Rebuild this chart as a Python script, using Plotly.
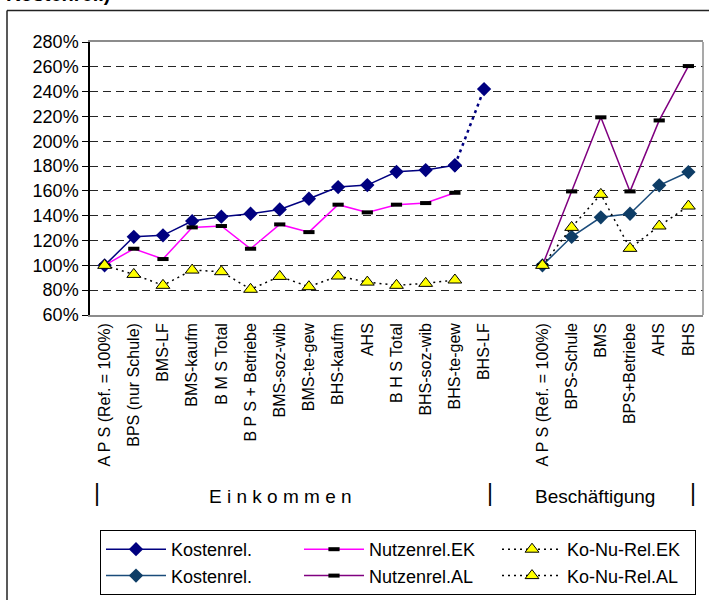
import plotly.graph_objects as go

# ---------------- data ----------------
categories = [
    "A P S (Ref. = 100%)", "BPS (nur Schule)", "BMS-LF", "BMS-kaufm", "B M S Total",
    "B P S + Betriebe", "BMS-soz-wib", "BMS-te-gew", "BHS-kaufm", "AHS",
    "B H S Total", "BHS-soz-wib", "BHS-te-gew", "BHS-LF", "",
    "A P S (Ref. = 100%)", "BPS-Schule", "BMS", "BPS+Betriebe", "AHS", "BHS",
]

# Einkommen (indices 0..13)
kosten_ek = [100, 123.0, 124.2, 135.7, 139.2, 141.6, 145.1, 153.7, 163.1, 164.7,
             175.4, 176.8, 180.6]
kosten_ek_lf = [180.6, 242.1]          # dotted segment BHS-te-gew -> BHS-LF
nutzen_ek = [100, 113.4, 105.1, 130.6, 131.7, 113.4, 133.0, 126.8, 148.9, 142.7,
             148.9, 150.2, 158.5]
konu_ek = [100, 92.7, 83.9, 96.2, 94.9, 80.7, 91.1, 82.8, 91.4, 86.5,
           83.9, 85.5, 88.2]

# Beschäftigung (indices 15..20)
kosten_al = [100, 123.0, 138.7, 141.6, 164.5, 175.2]
nutzen_al = [100, 159.6, 219.3, 159.6, 216.8, 260.6]
konu_al = [100, 130.6, 157.2, 113.7, 131.7, 147.8]

y_ticks = [60, 80, 100, 120, 140, 160, 180, 200, 220, 240, 260, 280]

idx = list(range(len(categories)))
ek_x = idx[0:13]
ek_lf_x = idx[12:14]
al_x = idx[15:21]

# ---------------- geometry helpers (pixel -> paper) ----------------
W, H = 709, 600
L, R, T, B = 90, 6, 42, 285
PW, PH = W - L - R, H - T - B


def xp(px):
    return (px - L) / PW


def yp(py):
    return (H - B - py) / PH


FONT = "Arial, Liberation Sans, sans-serif"

fig = go.Figure()

fig.add_trace(go.Scatter(
    x=ek_x, y=kosten_ek, name="Kostenrel.", mode="lines+markers",
    line=dict(color="#000080", width=1.5),
    marker=dict(symbol="diamond", size=11, color="#000080"),
))
fig.add_trace(go.Scatter(
    x=ek_x, y=nutzen_ek, name="Nutzenrel.EK", mode="lines+markers",
    line=dict(color="#FF00FF", width=1.5),
    marker=dict(symbol="line-ew", size=8, color="black",
                line=dict(color="black", width=4)),
))
fig.add_trace(go.Scatter(
    x=ek_x, y=konu_ek, name="Ko-Nu-Rel.EK", mode="lines+markers",
    line=dict(color="black", width=1.5, dash="2px,4px"),
    marker=dict(symbol="triangle-up", size=12, color="#FFFF00",
                line=dict(color="black", width=1)),
))
fig.add_trace(go.Scatter(
    x=al_x, y=kosten_al, name="Kostenrel.", mode="lines+markers",
    line=dict(color="#1A4B7A", width=1.5),
    marker=dict(symbol="diamond", size=11, color="#0E3D66"),
))
fig.add_trace(go.Scatter(
    x=al_x, y=nutzen_al, name="Nutzenrel.AL", mode="lines+markers",
    line=dict(color="#800080", width=1.5),
    marker=dict(symbol="line-ew", size=8, color="black",
                line=dict(color="black", width=4)),
))
fig.add_trace(go.Scatter(
    x=al_x, y=konu_al, name="Ko-Nu-Rel.AL", mode="lines+markers",
    line=dict(color="black", width=1.5, dash="2px,4px"),
    marker=dict(symbol="triangle-up", size=12, color="#FFFF00",
                line=dict(color="black", width=1)),
))
fig.add_trace(go.Scatter(
    x=ek_lf_x, y=kosten_ek_lf, showlegend=False, mode="lines+markers",
    line=dict(color="#000080", width=2.5, dash="3px,4px"),
    marker=dict(symbol="diamond", size=11, color="#000080"),
))

n = len(categories)
fig.update_layout(
    width=W, height=H,
    margin=dict(l=L, r=R, t=T, b=B, autoexpand=False),
    paper_bgcolor="white", plot_bgcolor="white",
    font=dict(family=FONT, color="black"),
    showlegend=True,
    xaxis=dict(
        range=[-0.5, n - 0.5], tickmode="array", tickvals=idx, ticktext=categories,
        tickangle=-90, tickfont=dict(size=16, family=FONT, color="black"),
        showgrid=False, zeroline=False, showline=True, linecolor="#8c8c8c",
        linewidth=1.5, mirror=True, ticks="",
    ),
    xaxis2=dict(
        overlaying="x", anchor="free", position=(100 - 60) / (280 - 60), side="bottom",
        range=[-0.5, n - 0.5], tickmode="array",
        tickvals=[k - 0.5 for k in range(n + 1)],
        ticks="outside", ticklen=6, tickwidth=1, tickcolor="black",
        showticklabels=False, showgrid=False, zeroline=False,
        showline=True, linecolor="black", linewidth=1.5,
    ),
    yaxis=dict(
        range=[60, 280], tickmode="array", tickvals=y_ticks,
        ticktext=[f"{v}%" for v in y_ticks],
        tickfont=dict(size=18, family=FONT, color="black"),
        ticks="outside", ticklen=6, tickcolor="black",
        showline=True, linecolor="black", linewidth=1.5,
        showgrid=True, gridcolor="#262626", gridwidth=1, griddash="8px,5px",
        zeroline=False,
    ),
    legend=dict(
        orientation="h", x=xp(100), y=yp(530), xanchor="left", yanchor="top",
        bordercolor="black", borderwidth=1, bgcolor="white",
        font=dict(size=18, family=FONT, color="black"),
        entrywidth=123, entrywidthmode="pixels", itemwidth=60,
        tracegroupgap=0, traceorder="normal",
    ),
)

# right border of plot area (gray)
fig.add_shape(type="line", xref="paper", yref="paper", x0=1, x1=1, y0=0, y1=1,
              line=dict(color="#8c8c8c", width=1.5))
# outer chart frame (partially visible)
fig.add_shape(type="line", xref="paper", yref="paper", x0=xp(7), x1=xp(7),
              y0=yp(640), y1=yp(10.5), line=dict(color="#222", width=1.5))
fig.add_shape(type="line", xref="paper", yref="paper", x0=xp(7), x1=xp(740),
              y0=yp(10.5), y1=yp(10.5), line=dict(color="#222", width=1.5))

# group labels under the axis
for px in (97, 490, 693):
    fig.add_annotation(text="|", xref="paper", yref="paper", x=xp(px), y=yp(493),
                       xanchor="center", yanchor="middle", showarrow=False,
                       font=dict(size=23, family=FONT, color="black"))
fig.add_annotation(text="E i n k o m m e n", xref="paper", yref="paper",
                   x=xp(280), y=yp(497), xanchor="center", yanchor="middle",
                   showarrow=False, font=dict(size=19, family=FONT, color="black"))
fig.add_annotation(text="Beschäftigung", xref="paper", yref="paper",
                   x=xp(595), y=yp(497), xanchor="center", yanchor="middle",
                   showarrow=False, font=dict(size=19, family=FONT, color="black"))

# clipped title at the very top
fig.add_annotation(text="<b>Kostenrel.)</b>", xref="paper", yref="paper",
                   x=xp(4), y=yp(-6), xanchor="left", yanchor="middle",
                   showarrow=False, font=dict(size=20, family=FONT, color="black"))

fig.write_html("out.html", config={"displayModeBar": False},
               post_script="document.body.style.margin='0';")
